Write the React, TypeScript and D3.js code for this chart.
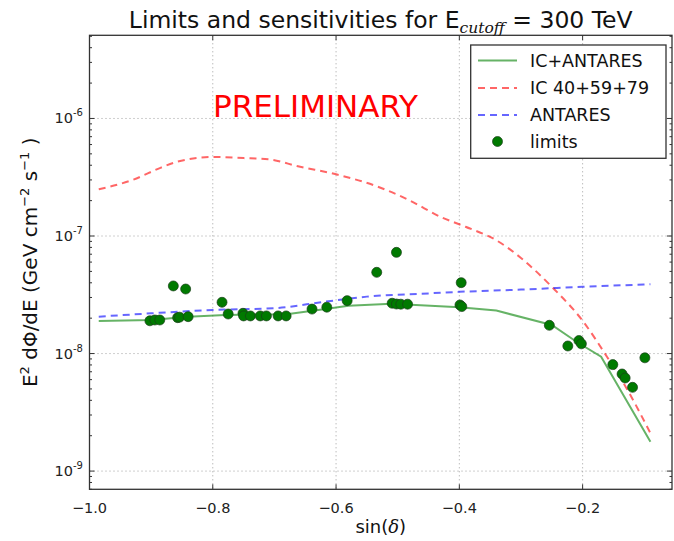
import React from "react";
import * as d3 from "d3";

// IC 40+59+79 sensitivity (red dashed)
const icX = [-0.985, -0.93, -0.885, -0.86, -0.8, -0.75, -0.71, -0.66, -0.6, -0.53, -0.48, -0.43, -0.39, -0.34, -0.3, -0.25, -0.2, -0.16, -0.13, -0.09];
const icY = [2.5e-7, 3.0e-7, 3.8e-7, 4.25e-7, 4.7e-7, 4.6e-7, 4.5e-7, 3.9e-7, 3.35e-7, 2.6e-7, 2.0e-7, 1.45e-7, 1.2e-7, 9.2e-8, 6.5e-8, 3.7e-8, 1.9e-8, 9.3e-9, 5.2e-9, 2.1e-9];

// ANTARES sensitivity (blue dashed)
const antX = [-0.985, -0.9, -0.8, -0.7, -0.62, -0.55, -0.45, -0.4, -0.3, -0.2, -0.09];
const antY = [2.06e-8, 2.2e-8, 2.35e-8, 2.43e-8, 2.75e-8, 3.05e-8, 3.25e-8, 3.35e-8, 3.5e-8, 3.7e-8, 3.88e-8];

// IC+ANTARES combined sensitivity (green solid)
const combX = [-0.985, -0.9, -0.84, -0.78, -0.68, -0.62, -0.58, -0.51, -0.4, -0.34, -0.25, -0.21, -0.17, -0.09];
const combY = [1.89e-8, 1.93e-8, 2.06e-8, 2.13e-8, 2.16e-8, 2.38e-8, 2.55e-8, 2.65e-8, 2.48e-8, 2.32e-8, 1.75e-8, 1.26e-8, 9.4e-9, 1.78e-9];

// limits (green dots)
const limX = [-0.902, -0.894, -0.886, -0.864, -0.857, -0.854, -0.844, -0.84, -0.785, -0.775, -0.751, -0.75, -0.739, -0.723, -0.713, -0.694, -0.681, -0.639, -0.615, -0.582, -0.534, -0.502, -0.509, -0.502, -0.495, -0.484, -0.397, -0.399, -0.396, -0.254, -0.224, -0.206, -0.202, -0.151, -0.136, -0.131, -0.119, -0.099];
const limY = [1.9e-8, 1.93e-8, 1.93e-8, 3.76e-8, 2.02e-8, 2.04e-8, 3.54e-8, 2.06e-8, 2.73e-8, 2.17e-8, 2.2e-8, 2.09e-8, 2.09e-8, 2.09e-8, 2.09e-8, 2.09e-8, 2.09e-8, 2.39e-8, 2.48e-8, 2.82e-8, 4.91e-8, 7.26e-8, 2.68e-8, 2.64e-8, 2.63e-8, 2.63e-8, 4.01e-8, 2.59e-8, 2.51e-8, 1.74e-8, 1.16e-8, 1.29e-8, 1.21e-8, 8.05e-9, 6.7e-9, 6.2e-9, 5.16e-9, 9.2e-9];

const xTicks = [-1.0, -0.8, -0.6, -0.4, -0.2];
const yTickExps = [-9, -8, -7, -6];
const legendLabels = ["IC+ANTARES", "IC 40+59+79", "ANTARES", "limits"];

const W = 674, H = 541;
const L = 89.5, R = 672, T = 35.3, B = 489.3;
const FONT = "DejaVu Sans";

export default function App() {
  const x = d3.scaleLinear().domain([-1, -0.055]).range([L, R]);
  const y = d3.scaleLog().domain([7e-10, 5.1e-6]).range([B, T]);
  const line = d3.line<[number, number]>().x(d => x(d[0])).y(d => y(d[1]));
  const smooth = d3.line<[number, number]>().x(d => x(d[0])).y(d => y(d[1])).curve(d3.curveMonotoneX);
  const zip = (a: number[], b: number[]) => a.map((v, i) => [v, b[i]] as [number, number]);

  const minor: number[] = [];
  for (let e = -10; e <= -6; e++) for (let m = 2; m <= 9; m++) {
    const v = m * Math.pow(10, e);
    if (v >= 7e-10 && v <= 5.1e-6) minor.push(v);
  }
  const gridStyle = { stroke: "#888", strokeWidth: 0.8, strokeDasharray: "1,3" };
  const green = "rgba(0,128,0,0.6)";
  const red = "rgba(255,0,0,0.6)";
  const blue = "rgba(0,0,255,0.6)";

  const legY = [60.5, 88, 115, 141.5];
  const legColors = [green, red, blue];
  const legDash = [undefined, "7,5", "7,5"];

  return (
    <svg width={W} height={H} style={{ position: "absolute", left: 0, top: 0, background: "#fff" }} fontFamily={FONT}>
      <rect x={0} y={0} width={W} height={H} fill="#fff" />
      {/* grid */}
      {xTicks.slice(1).map(t => (
        <line key={"gx" + t} x1={x(t)} x2={x(t)} y1={T} y2={B} {...gridStyle} />
      ))}
      {yTickExps.map(e => (
        <line key={"gy" + e} x1={L} x2={R} y1={y(Math.pow(10, e))} y2={y(Math.pow(10, e))} {...gridStyle} />
      ))}
      {/* curves */}
      <path d={smooth(zip(icX, icY)) || ""} fill="none" stroke={red} strokeWidth={2} strokeDasharray="7,5" />
      <path d={smooth(zip(antX, antY)) || ""} fill="none" stroke={blue} strokeWidth={2} strokeDasharray="7,5" />
      <path d={line(zip(combX, combY)) || ""} fill="none" stroke={green} strokeWidth={2} />
      {limX.map((v, i) => (
        <circle key={"p" + i} cx={x(v)} cy={y(limY[i])} r={5} fill="#007a00" stroke="#1a3d1a" strokeWidth={0.7} />
      ))}
      {/* frame */}
      <rect x={L} y={T} width={R - L} height={B - T} fill="none" stroke="#333" strokeWidth={1.3} />
      {/* x ticks */}
      {xTicks.map(t => (
        <g key={"xt" + t}>
          <line x1={x(t)} x2={x(t)} y1={B} y2={B - 5} stroke="#333" />
          <line x1={x(t)} x2={x(t)} y1={T} y2={T + 5} stroke="#333" />
          <text x={x(t)} y={512.5} textAnchor="middle" fontSize={14.5} fill="#222">
            {t.toFixed(1).replace("-", "\u2212")}
          </text>
        </g>
      ))}
      {/* y ticks */}
      {yTickExps.map(e => {
        const yy = y(Math.pow(10, e));
        return (
          <g key={"yt" + e}>
            <line x1={L} x2={L + 5} y1={yy} y2={yy} stroke="#333" />
            <line x1={R} x2={R - 5} y1={yy} y2={yy} stroke="#333" />
            <text x={83} y={yy + 5} textAnchor="end" fontSize={14.5} fill="#222">
              10<tspan dy={-7} fontSize={10}>{"-" + (-e)}</tspan>
            </text>
          </g>
        );
      })}
      {minor.map((v, i) => (
        <g key={"mn" + i}>
          <line x1={L} x2={L + 2.5} y1={y(v)} y2={y(v)} stroke="#333" />
          <line x1={R} x2={R - 2.5} y1={y(v)} y2={y(v)} stroke="#333" />
        </g>
      ))}
      {/* PRELIMINARY */}
      <text x={213} y={116.5} fontSize={31} fill="#ff0000">PRELIMINARY</text>
      {/* title */}
      <text x={(L + R) / 2} y={28} textAnchor="middle" fontSize={23.5} fill="#111">
        Limits and sensitivities for E
        <tspan dy={5} fontSize={15.5} fontStyle="italic" fontFamily="DejaVu Serif">cutoff</tspan>
        <tspan dy={-5}> = 300 TeV</tspan>
      </text>
      {/* axis labels */}
      <text x={(L + R) / 2} y={533} textAnchor="middle" fontSize={18} fill="#111">
        sin(<tspan fontStyle="italic" fontFamily="DejaVu Serif">δ</tspan>)
      </text>
      <text transform={`translate(37,${(T + B) / 2}) rotate(-90)`} textAnchor="middle" fontSize={20} fill="#111">
        E<tspan dy={-8} fontSize={13}>2</tspan>
        <tspan dy={8}> dΦ/dE (GeV cm</tspan>
        <tspan dy={-8} fontSize={13}>−2</tspan>
        <tspan dy={8}> s</tspan>
        <tspan dy={-8} fontSize={13}>−1</tspan>
        <tspan dy={8}> )</tspan>
      </text>
      {/* legend */}
      <rect x={470.7} y={45} width={195.3} height={113.3} fill="#fff" stroke="#333" strokeWidth={1.3} />
      {legendLabels.map((lab, i) => (
        <g key={"lg" + i}>
          {i < 3 ? (
            <line x1={478} x2={517} y1={legY[i]} y2={legY[i]} stroke={legColors[i]} strokeWidth={2} strokeDasharray={legDash[i]} />
          ) : (
            <circle cx={497.5} cy={legY[i]} r={5} fill="#007a00" stroke="#1a3d1a" strokeWidth={0.7} />
          )}
          <text x={530} y={legY[i] + 6} fontSize={17.5} fill="#111">{lab}</text>
        </g>
      ))}
    </svg>
  );
}
